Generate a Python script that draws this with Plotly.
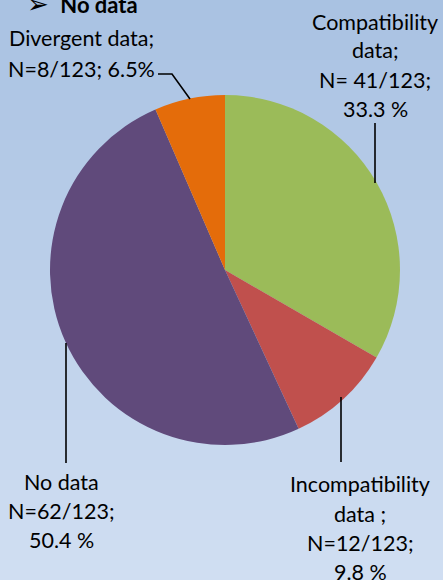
import plotly.graph_objects as go

W, H = 443, 580

# Data
categories = ["Compatibility data", "Incompatibility data", "No data", "Divergent data"]
counts = [41, 12, 62, 8]
colors = ["#9BBB59", "#C0504D", "#604A7B", "#E46C0A"]

label_lines = {
    "Compatibility data": ["Compatibility", "data;", "N= 41/123;", "33.3 %"],
    "Incompatibility data": ["Incompatibility", "data ;", "N=12/123;", "9.8 %"],
    "No data": ["No data", "N=62/123;", "50.4 %"],
    "Divergent data": ["Divergent data;", "N=8/123; 6.5%"],
}
header_text = "<span style='font-size:26px'>➢</span>  <b>No data</b>"

# layout helpers (pixels -> paper)
def px(x):
    return x / W

def py(y):
    return 1 - y / H

cx, cy, r = 225, 270, 175

fig = go.Figure(go.Pie(
    labels=categories,
    values=counts,
    marker=dict(colors=colors, line=dict(width=0)),
    sort=False,
    direction="clockwise",
    rotation=0,
    textinfo="none",
    hoverinfo="label+value+percent",
    showlegend=False,
    domain=dict(x=[px(cx - 218), px(cx + 218)], y=[py(cy + r), py(cy - r)]),
))

# Background vertical gradient
shapes = []
top = (169, 194, 226)
bot = (208, 222, 242)
n = 58
for i in range(n):
    t = i / (n - 1)
    c = tuple(round(top[k] + (bot[k] - top[k]) * t) for k in range(3))
    shapes.append(dict(type="rect", xref="paper", yref="paper",
                       x0=0, x1=1, y0=1 - (i + 1) / n - 0.001, y1=1 - i / n,
                       fillcolor="rgb(%d,%d,%d)" % c, line=dict(width=0), layer="below"))

# Leader lines
line_style = dict(color="black", width=1.6)
lines = [
    [(158, 74), (172, 74), (190, 99)],
    [(375, 123), (375, 183)],
    [(66, 343), (66, 463)],
    [(341, 397), (341, 462)],
]
for pts in lines:
    path = "M " + " L ".join("%f,%f" % (px(x), py(y)) for x, y in pts)
    shapes.append(dict(type="path", xref="paper", yref="paper", path=path,
                       line=line_style, layer="above"))

annotations = []
font = dict(family="Lato", size=21.5, color="black")

def add_lines(lines_text, x, ys):
    for t, y in zip(lines_text, ys):
        annotations.append(dict(text=t, x=px(x), y=py(y), xref="paper", yref="paper",
                                showarrow=False, xanchor="center", yanchor="middle",
                                font=font))

add_lines(label_lines["Divergent data"], 81, [38, 69])
add_lines(label_lines["Compatibility data"], 375, [22, 50, 80, 109])
add_lines(label_lines["No data"], 61, [482, 511, 540])
add_lines(label_lines["Incompatibility data"], 360, [484, 514, 543, 572])

annotations.append(dict(text=header_text, x=px(82), y=py(3), xref="paper", yref="paper",
                        showarrow=False, xanchor="center", yanchor="middle",
                        font=dict(family="Lato", size=22, color="black")))

fig.update_layout(
    width=W, height=H,
    margin=dict(l=0, r=0, t=0, b=0),
    paper_bgcolor="#B9CDEA",
    plot_bgcolor="rgba(0,0,0,0)",
    shapes=shapes,
    annotations=annotations,
)

fig.write_html("out.html", config={"displayModeBar": False},
               post_script="document.body.style.margin='0';document.body.style.overflow='hidden';")
